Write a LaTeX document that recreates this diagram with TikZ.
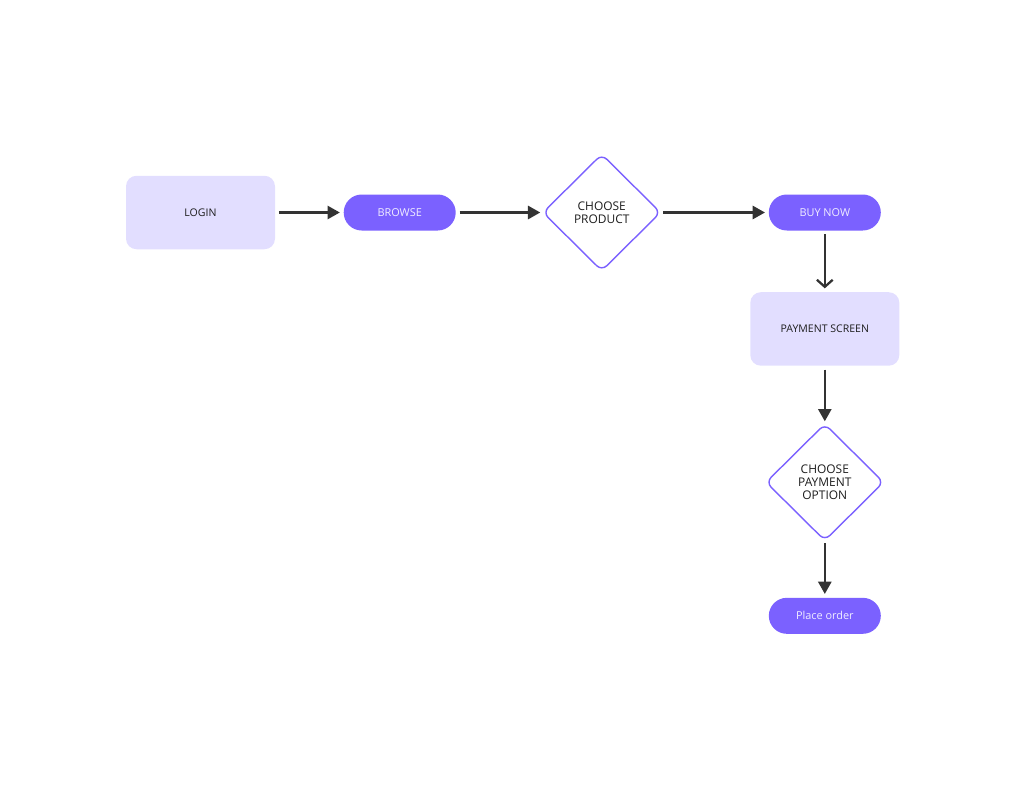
\documentclass[tikz,border=0pt]{standalone}
\usepackage{fontspec}
\setmainfont{Open Sans}
\usepackage{tikz}
\usetikzlibrary{arrows.meta,positioning,shapes.geometric}
\definecolor{flowlilac}{HTML}{E2DEFF}
\definecolor{flowpurple}{HTML}{7B61FF}
\definecolor{flowtext}{HTML}{1E1E1E}
\definecolor{flowpale}{HTML}{F0EDFF}
\definecolor{flowarrow}{HTML}{333333}

\begin{document}
\begin{tikzpicture}[
    screen/.style={fill=flowlilac, rounded corners=6pt, minimum width=2.98cm,
                   minimum height=1.47cm, text=flowtext, font=\fontsize{6}{7}\selectfont},
    action/.style={fill=flowpurple, rounded corners=0.36cm, minimum width=2.24cm,
                   minimum height=0.72cm, text=flowpale, font=\fontsize{6.2}{7}\selectfont},
    choice/.style={diamond, draw=flowpurple, line width=0.8pt, fill=white,
                   rounded corners=4pt, minimum width=2.36cm, minimum height=2.34cm,
                   inner sep=0pt, align=center, text=flowtext,
                   font=\fontsize{6.8}{7.4}\selectfont},
    flow/.style={-{Triangle[length=7pt,width=7.5pt]}, line width=1.3pt, flowarrow},
    openflow/.style={-{Straight Barb[length=4pt,width=9pt]}, line width=1.3pt, flowarrow},
]
\useasboundingbox (0,0) rectangle (20.48,-15.84);

% Top row
\node[screen] (login) at (4.01,-4.25) {LOGIN};
\node[action, right=1.36cm of login] (browse) {BROWSE};
\node[choice, right=1.72cm of browse] (product) {CHOOSE\\PRODUCT};
\node[action, right=2.14cm of product] (buynow) {BUY NOW};

% Right column
\node[screen, below=1.22cm of buynow] (payment) {PAYMENT SCREEN};
\node[choice, below=1.14cm of payment] (option) {CHOOSE\\PAYMENT\\OPTION};
\node[action, below=1.12cm of option] (order) {Place order};

% Connectors
\draw[flow] ([xshift=2pt]login.east) -- ([xshift=-2pt]browse.west);
\draw[flow] ([xshift=2pt]browse.east) -- ([xshift=-1pt]product.west);
\draw[flow] ([xshift=1pt]product.east) -- ([xshift=-2pt]buynow.west);
\draw[openflow] ([yshift=-2pt]buynow.south) -- ([yshift=2pt]payment.north);
\draw[flow] ([yshift=-2pt]payment.south) -- ([yshift=1pt]option.north);
\draw[flow] ([yshift=-1pt]option.south) -- ([yshift=2pt]order.north);
\end{tikzpicture}
\end{document}
